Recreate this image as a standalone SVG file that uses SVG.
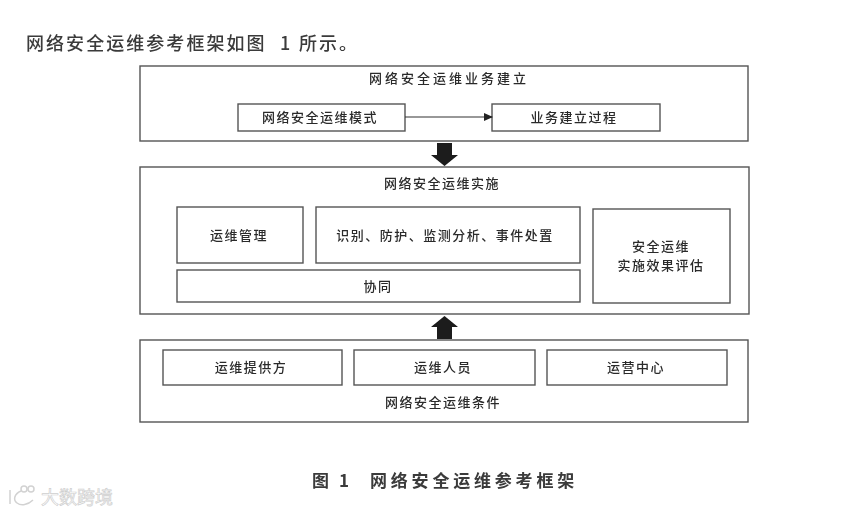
<svg xmlns="http://www.w3.org/2000/svg" width="865" height="514" viewBox="0 0 865 514">
<style>
.box{fill:#fff;stroke:#555;stroke-width:1.4}
text{font-family:"Noto Sans CJK SC","Liberation Sans",sans-serif;fill:#2a2a2a;text-anchor:middle;font-size:13px;font-weight:500}
.wm{fill:none;stroke:#d2d2d2;stroke-width:1.5}
</style>
<defs>
<marker id="tip" markerWidth="9" markerHeight="8" refX="8" refY="4" orient="auto" markerUnits="userSpaceOnUse"><path d="M0 0L9 4L0 8z" fill="#222"/></marker>
<filter id="soft" x="-5%" y="-5%" width="110%" height="110%"><feGaussianBlur stdDeviation="0.35"/></filter>
</defs>
<rect width="865" height="514" fill="#fff"/>
<g filter="url(#soft)">
<text id="intro" y="50" style="font-size:18px;letter-spacing:2.05px;text-anchor:start;fill:#3a3a3a"><tspan x="26">网络安全运维参考框架如图</tspan><tspan x="280">1</tspan><tspan x="299">所示。</tspan></text>
<g id="build">
<rect class="box" x="140" y="66" width="608" height="75"/>
<text x="449" y="83" style="letter-spacing:3px">网络安全运维业务建立</text>
</g>
<g id="mode"><rect class="box" x="238" y="104" width="167" height="27"/><text x="320" y="122" style="letter-spacing:1.5px">网络安全运维模式</text></g>
<g id="process"><rect class="box" x="492" y="104" width="168" height="27"/><text x="574" y="122" style="letter-spacing:1.5px">业务建立过程</text></g>
<g id="impl">
<rect class="box" x="140" y="167" width="609" height="147"/>
<text x="442" y="188" style="letter-spacing:1.5px">网络安全运维实施</text>
</g>
<g id="mgmt"><rect class="box" x="177" y="207" width="126" height="56"/><text x="239" y="240" style="letter-spacing:1.5px">运维管理</text></g>
<g id="ident"><rect class="box" x="316" y="207" width="264" height="56"/><text x="445" y="240" style="letter-spacing:1.5px">识别、防护、监测分析、事件处置</text></g>
<g id="collab"><rect class="box" x="177" y="270" width="403" height="32"/><text x="378" y="291" style="letter-spacing:1.5px">协同</text></g>
<g id="eval"><rect class="box" x="593" y="209" width="137" height="94"/><text x="661" y="251" style="letter-spacing:1.5px">安全运维</text><text x="661" y="270" style="letter-spacing:1.5px">实施效果评估</text></g>
<g id="cond">
<rect class="box" x="140" y="340" width="608" height="82"/>
<text x="443" y="407" style="letter-spacing:1.5px">网络安全运维条件</text>
</g>
<g id="provider"><rect class="box" x="163" y="350" width="179" height="35"/><text x="251" y="372" style="letter-spacing:1.5px">运维提供方</text></g>
<g id="staff"><rect class="box" x="354" y="350" width="181" height="35"/><text x="443" y="372" style="letter-spacing:1.5px">运维人员</text></g>
<g id="ops"><rect class="box" x="547" y="350" width="180" height="35"/><text x="636" y="372" style="letter-spacing:1.5px">运营中心</text></g>
<g id="connectors">
<line x1="405" y1="117" x2="492" y2="117" stroke="#333" stroke-width="1.2" marker-end="url(#tip)"/>
<path d="M437 143H452V155H458L444.500 166L431 155H437z" fill="#1a1a1a"/>
<path d="M437 339H452V327H458L444.500 316L431 327H437z" fill="#1a1a1a"/>
</g>
<text id="caption" y="487" style="font-size:17px;font-weight:700;letter-spacing:3.8px;text-anchor:start;fill:#3a3a3a"><tspan x="312">图</tspan><tspan x="339">1</tspan><tspan x="370">网络安全运维参考框架</tspan></text>
</g>
<g id="watermark">
<path class="wm" d="M10 490V504M21 491C14 494 13 500 17 503C21 506 28 505 33 500"/>
<circle class="wm" cx="24" cy="489" r="3"/><circle class="wm" cx="31" cy="489" r="3"/>
<text x="77" y="504" style="font-size:18px;font-weight:400;fill:#fff;stroke:#cfcfcf;stroke-width:.7;letter-spacing:0">大数跨境</text>
</g>
</svg>
